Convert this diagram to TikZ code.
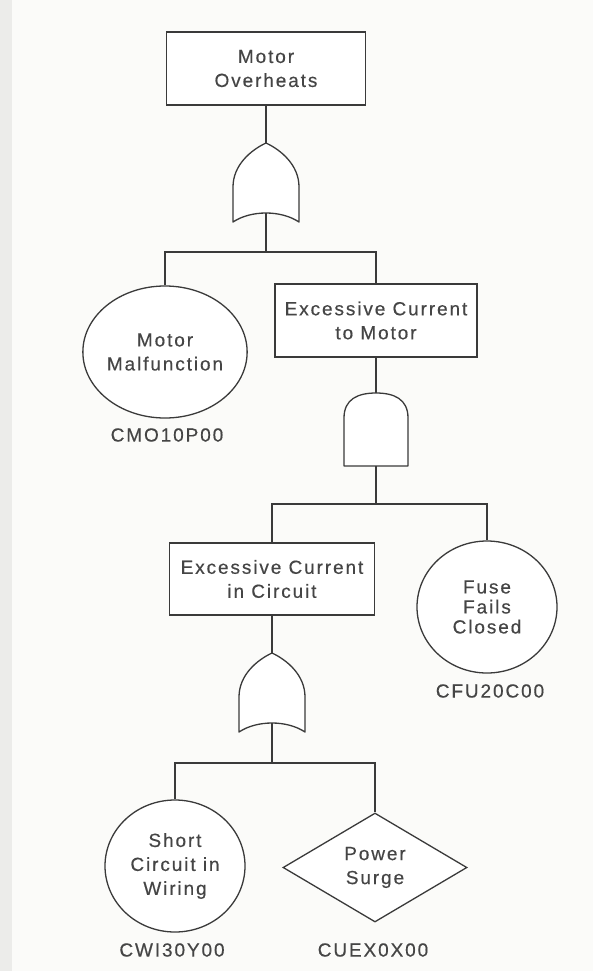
\documentclass[tikz,border=0pt]{standalone}
\usepackage{fontspec}
\setmainfont{Liberation Sans}[LetterSpace=10,FakeBold=0.4]
\usetikzlibrary{shapes.geometric}
\definecolor{inkline}{HTML}{3A3A3A}
\definecolor{inktext}{HTML}{454545}
\definecolor{paper}{HTML}{FBFBF9}
\definecolor{edgeband}{HTML}{ECECEA}
\tikzset{
  gateline/.style={draw=inkline,line width=1.3pt,fill=white,line join=round},
  conn/.style={draw=inkline,line width=1.3pt},
  evbox/.style={draw=inkline,line width=1.3pt,fill=white,rectangle,inner sep=0pt,
     minimum width=202pt,minimum height=73pt,align=center,text=inktext,
     font=\fontsize{19}{24}\selectfont},
  basic/.style={draw=inkline,line width=1.3pt,fill=white,ellipse,inner sep=0pt,
     minimum width=141pt,minimum height=132pt,align=center,text=inktext,
     font=\fontsize{19}{24}\selectfont},
  undev/.style={draw=inkline,line width=1.3pt,fill=white,diamond,aspect=1.69,inner sep=0pt,
     minimum width=184pt,minimum height=109pt,align=center,text=inktext,
     font=\fontsize{19}{24}\selectfont},
  code/.style={text=inktext,inner sep=0pt,font=\fontsize{19}{22}\selectfont},
  orgate/.pic={\draw[gateline] (-33,79) -- (-33,44) .. controls (-33,22) and (-15,7) .. (0,0)
      .. controls (15,7) and (33,22) .. (33,44) -- (33,79)
      .. controls (15,67) and (-15,67) .. (-33,79) -- cycle;},
  andgate/.pic={\draw[gateline] (-32,73) -- (-32,25) .. controls (-32,6) and (-18,0) .. (0,0)
      .. controls (18,0) and (32,6) .. (32,25) -- (32,73) -- cycle;}
}
\begin{document}
\begin{tikzpicture}[x=1pt,y=-1pt]
\useasboundingbox (0,0) rectangle (593,971);
\fill[paper] (0,0) rectangle (593,971);
\fill[edgeband] (0,0) rectangle (12,971);

% nodes
\node[evbox,minimum width=199pt] (top) at (266,68.5) {Motor\\Overheats};
\node[basic] (mm) at (165,352) {Motor\\Malfunction};
\node[code] (cmo) at (167,435) {CMO10P00};
\node[evbox] (ecm) at (376,320.5) {Excessive Current\\to Motor};
\node[evbox,minimum width=205pt,minimum height=72pt] (eci) at (272,579) {Excessive Current\\in Circuit};
\node[basic,minimum width=140pt,font=\fontsize{19}{20}\selectfont] (ffc) at (487,607) {Fuse\\Fails\\Closed};
\node[code] (cfu) at (490,691) {CFU20C00};
\node[basic,minimum width=140pt] (scw) at (175,866) {Short\\Circuit in\\Wiring};
\node[code] (cwi) at (172,950) {CWI30Y00};
\node[undev] (ps) at (375,867.5) {Power\\Surge};
\node[code] (cue) at (373,950) {CUEX0X00};

% gates
\pic at (266,143) {orgate};
\coordinate (g1in) at (266,143);
\coordinate (g1out) at (266,213);
\pic at (376,393) {andgate};
\coordinate (g2in) at (376,393);
\coordinate (g2out) at (376,466);
\pic at (272,653) {orgate};
\coordinate (g3in) at (272,653);
\coordinate (g3out) at (272,723);

% junctions
\coordinate (j1) at (266,252);
\coordinate (j2) at (376,504);
\coordinate (j3) at (272,763);

% connectors
\draw[conn] (top.south) -- (g1in);
\draw[conn] (g1out) -- (j1);
\draw[conn] (j1) -| (mm.north);
\draw[conn] (j1) -| (ecm.north);
\draw[conn] (ecm.south) -- (g2in);
\draw[conn] (g2out) -- (j2);
\draw[conn] (j2) -| (eci.north);
\draw[conn] (j2) -| (ffc.north);
\draw[conn] (eci.south) -- (g3in);
\draw[conn] (g3out) -- (j3);
\draw[conn] (j3) -| (scw.north);
\draw[conn] (j3) -| (ps.north);
\end{tikzpicture}
\end{document}
